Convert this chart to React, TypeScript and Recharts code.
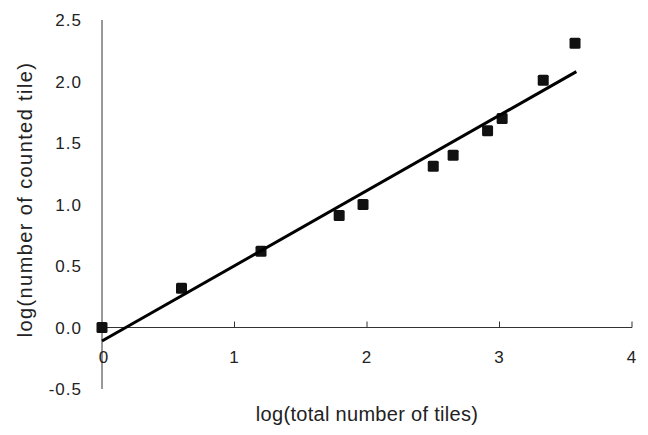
import React from "react";
import {
  ScatterChart,
  Scatter,
  XAxis,
  YAxis,
  ReferenceLine,
  Label,
} from "recharts";

// Observed points: log(total number of tiles) vs log(number of counted tile)
const LOG_TOTAL = [0, 0.6, 1.2, 1.79, 1.97, 2.5, 2.65, 2.91, 3.02, 3.33, 3.57];
const LOG_COUNTED = [0, 0.32, 0.62, 0.91, 1.0, 1.31, 1.4, 1.6, 1.7, 2.01, 2.31];

// Fitted trend line end points
const TREND_X = [0, 3.58];
const TREND_Y = [-0.11, 2.08];

const X_TICKS = [0, 1, 2, 3, 4];
const Y_TICKS = [-0.5, 0, 0.5, 1.0, 1.5, 2.0, 2.5];

const X_TITLE = "log(total number of tiles)";
const Y_TITLE = "log(number of counted tile)";

const points = LOG_TOTAL.map((x, i) => ({ x, y: LOG_COUNTED[i] }));
const trend = TREND_X.map((x, i) => ({ x, y: TREND_Y[i] }));
const axisTicks = X_TICKS.map((x) => ({ x, y: 0 }));

const FONT = "'Liberation Sans', Arial, Helvetica, sans-serif";
const TEXT = "#222";
const AXIS = "#333";

const SquareMarker = (props: any) => {
  const { cx, cy } = props;
  if (cx == null || cy == null) return <g />;
  const s = 11;
  return (
    <rect x={cx - s / 2} y={cy - s / 2} width={s} height={s} rx={1.5} fill="#111" />
  );
};

const AxisTick = (props: any) => {
  const { cx, cy, payload } = props;
  if (cx == null || cy == null) return <g />;
  const v = payload?.x;
  return (
    <g>
      {v !== 0 && <line x1={cx} y1={cy} x2={cx} y2={cy - 6} stroke={AXIS} strokeWidth={1} />}
      <text
        x={cx + (v === 0 ? 2 : 0)}
        y={cy + 30}
        textAnchor="middle"
        dominantBaseline="central"
        fontFamily={FONT}
        fontSize={17}
        letterSpacing={1}
        fill={TEXT}
      >
        {String(v)}
      </text>
    </g>
  );
};

const NoShape = () => <g />;

export default function App() {
  return (
    <div style={{ width: 640, height: 427 }}>
      <ScatterChart
        width={640}
        height={427}
        margin={{ top: 12, right: 16, left: 0, bottom: 0 }}
      >
        <XAxis
          type="number"
          dataKey="x"
          domain={[0, 4]}
          ticks={X_TICKS}
          tick={false}
          axisLine={false}
          tickLine={false}
          height={46}
        >
          <Label
            content={(p: any) => {
              const vb = p.viewBox || {};
              return (
                <text
                  x={vb.x + vb.width / 2}
                  y={vb.y + 25}
                  textAnchor="middle"
                  dominantBaseline="central"
                  fontFamily={FONT}
                  fontSize={20}
                  letterSpacing={0.3}
                  fill={TEXT}
                >
                  {X_TITLE}
                </text>
              );
            }}
          />
        </XAxis>
        <YAxis
          type="number"
          dataKey="y"
          domain={[-0.5, 2.5]}
          ticks={Y_TICKS}
          width={94}
          tickLine={false}
          tickSize={6}
          tickMargin={14}
          axisLine={{ stroke: AXIS, strokeWidth: 1 }}
          tickFormatter={(v: number) => v.toFixed(1)}
          tick={{ fontFamily: FONT, fontSize: 17, fill: TEXT, letterSpacing: 1 }}
        >
          <Label
            content={() => (
              <text
                x={17}
                y={191.5}
                transform="rotate(-90, 17, 191.5)"
                textAnchor="middle"
                dominantBaseline="central"
                fontFamily={FONT}
                fontSize={20}
                letterSpacing={1.4}
                fill={TEXT}
              >
                {Y_TITLE}
              </text>
            )}
          />
        </YAxis>
        <ReferenceLine y={0} stroke={AXIS} strokeWidth={1} />
        <Scatter
          data={axisTicks}
          shape={AxisTick}
          isAnimationActive={false}
        />
        <Scatter
          data={points}
          shape={SquareMarker}
          isAnimationActive={false}
        />
        <Scatter
          data={trend}
          line={{ stroke: "#000", strokeWidth: 3 }}
          shape={NoShape}
          isAnimationActive={false}
        />
      </ScatterChart>
    </div>
  );
}
